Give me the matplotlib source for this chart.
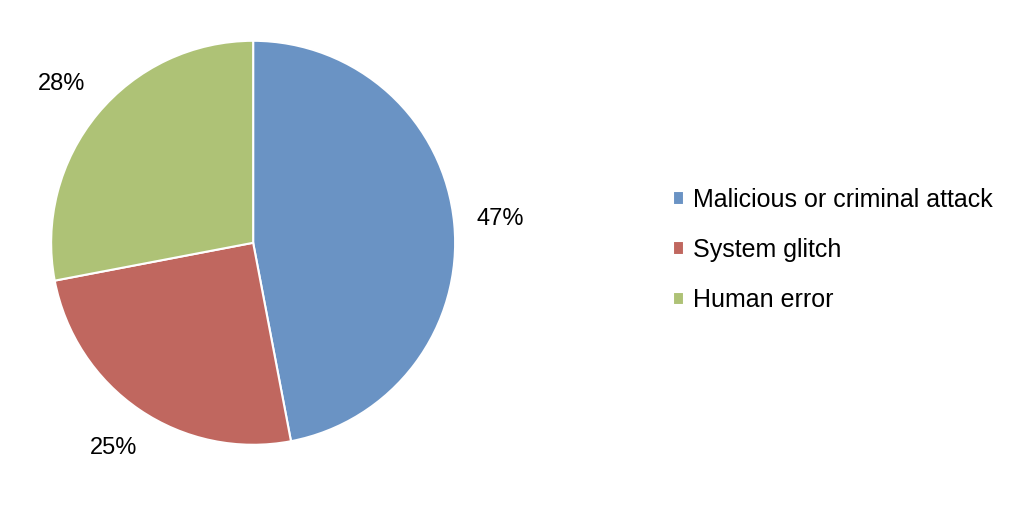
import matplotlib.pyplot as plt

labels = ["Malicious or criminal attack", "System glitch", "Human error"]
values = [47, 25, 28]
colors = ["#6A93C4", "#C0675F", "#AEC276"]

fig = plt.figure(figsize=(10.29, 5.21), dpi=100)
ax = fig.add_axes([0.246 - 0.1965, 0.534 - 0.3877, 0.393, 0.7754])
wedges, texts, autotexts = ax.pie(values, colors=colors, startangle=90, counterclock=False,
                                  autopct="%d%%", pctdistance=1.23,
                                  wedgeprops=dict(edgecolor="white", linewidth=1.5),
                                  textprops=dict(fontsize=17, family="Liberation Sans"))
ax.set_xlim(-1, 1)
ax.set_ylim(-1, 1)
ax.set_aspect("equal")
fig.legend(wedges, labels, loc="center left", bbox_to_anchor=(0.632, 0.52), frameon=False,
           handlelength=0.45, handleheight=0.45, handletextpad=0.35, labelspacing=1.05,
           prop=dict(size=18, family="Liberation Sans"))
fig.savefig("out.png")
